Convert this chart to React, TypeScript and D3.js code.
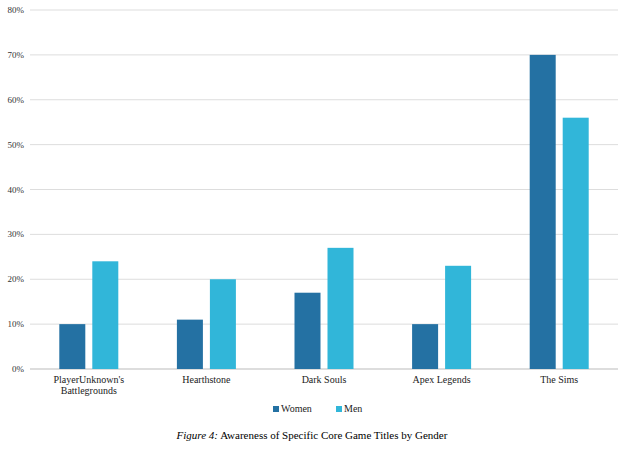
import React from "react";
import * as d3 from "d3";

const categories = ["PlayerUnknown's\nBattlegrounds", "Hearthstone", "Dark Souls", "Apex Legends", "The Sims"];
const women = [10, 11, 17, 10, 70];
const men = [24, 20, 27, 23, 56];
const ticks = [0, 10, 20, 30, 40, 50, 60, 70, 80];

const W = 625, H = 456;
const left = 30, right = 618, top = 10, bottom = 369;
const cWomen = "#2471a3", cMen = "#31b6d9";

export default function App() {
  const x = d3.scaleBand().domain(categories).range([left, right]);
  const y = d3.scaleLinear().domain([0, 80]).range([bottom, top]);
  const bw = 26, gap = 7;
  const font = "Times New Roman, Liberation Serif, serif";
  return (
    <svg width={W} height={H} style={{ position: "absolute", left: 0, top: 0 }} fontFamily={font}>
      <rect width={W} height={H} fill="#fff" />
      {ticks.map(t => (
        <g key={t}>
          <line x1={left} x2={right} y1={y(t)} y2={y(t)} stroke={t === 0 ? "#bbb" : "#ddd"} strokeWidth={1} />
          <text x={left - 6} y={y(t) + 3} fontSize={9} textAnchor="end" fill="#333">{t}%</text>
        </g>
      ))}
      {categories.map((c, i) => {
        const cx = x(c)! + x.bandwidth() / 2;
        return (
          <g key={c}>
            <rect x={cx - gap / 2 - bw} y={y(women[i])} width={bw} height={bottom - y(women[i])} fill={cWomen} />
            <rect x={cx + gap / 2} y={y(men[i])} width={bw} height={bottom - y(men[i])} fill={cMen} />
            {c.split("\n").map((line, j) => (
              <text key={j} x={cx} y={bottom + 14 + j * 11} fontSize={10} textAnchor="middle" fill="#222">{line}</text>
            ))}
          </g>
        );
      })}
      <rect x={273} y={406} width={6} height={6} fill={cWomen} />
      <text x={281} y={412} fontSize={10} fill="#222">Women</text>
      <rect x={336} y={406} width={6} height={6} fill={cMen} />
      <text x={344} y={412} fontSize={10} fill="#222">Men</text>
      <text x={312} y={439} fontSize={11} textAnchor="middle" fill="#000">
        <tspan fontStyle="italic">Figure 4:</tspan> Awareness of Specific Core Game Titles by Gender
      </text>
    </svg>
  );
}
